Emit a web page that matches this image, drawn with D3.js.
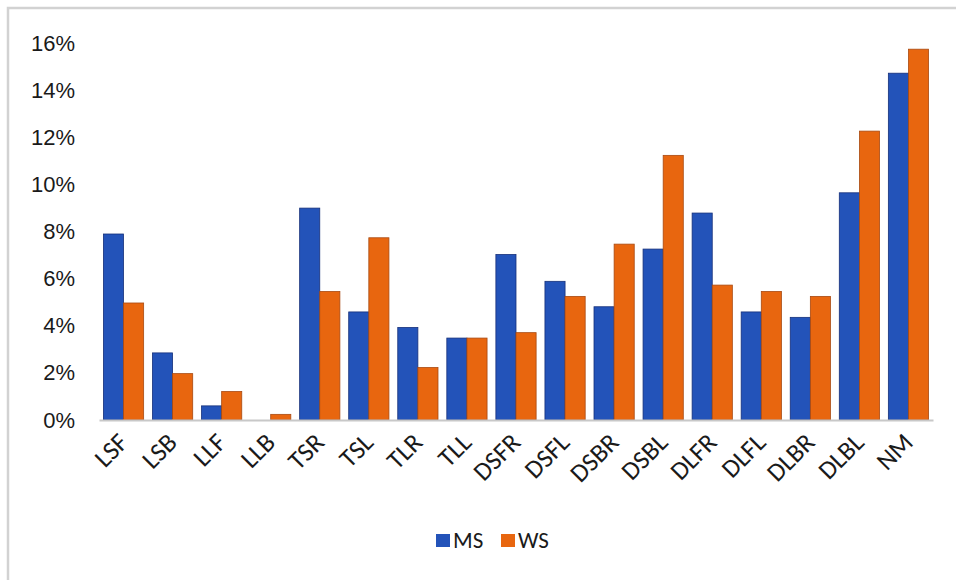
<!DOCTYPE html>
<html>
<head>
<meta charset="utf-8">
<script src="https://cdn.jsdelivr.net/npm/d3@7/dist/d3.min.js"></script>
<style>
  html, body { margin: 0; padding: 0; background: #ffffff; }
  svg { display: block; }
</style>
</head>
<body>
<svg id="chart" width="956" height="580"></svg>
<script>
// Categories along the x axis
const categories = ["LSF", "LSB", "LLF", "LLB", "TSR", "TSL", "TLR", "TLL",
  "DSFR", "DSFL", "DSBR", "DSBL", "DLFR", "DLFL", "DLBR", "DLBL", "NM"];

// Series values (fractions)
const msValues = [0.079, 0.0285, 0.006, 0.0, 0.090, 0.0459, 0.0393, 0.0348,
  0.0703, 0.0589, 0.0481, 0.0726, 0.0879, 0.0459, 0.0436, 0.0965, 0.1473];
const wsValues = [0.0497, 0.0197, 0.0121, 0.0024, 0.0546, 0.0774, 0.0223, 0.0348,
  0.0371, 0.0525, 0.0747, 0.1124, 0.0573, 0.0546, 0.0525, 0.1227, 0.1575];

const seriesNames = ["MS", "WS"];
const yTicks = [0, 0.02, 0.04, 0.06, 0.08, 0.10, 0.12, 0.14, 0.16];

const colors = { MS: "#2353b9", WS: "#e8660f" };
const strokes = { MS: "#16307a", WS: "#a84a12" };

const svg = d3.select("#chart");
const labelFont = "'Carlito', 'Liberation Sans Narrow', Lato, 'Open Sans', sans-serif";

// Outer frame
svg.append("rect")
  .attr("x", 8).attr("y", 8)
  .attr("width", 980).attr("height", 600)
  .attr("fill", "none")
  .attr("stroke", "#d2d2d2")
  .attr("stroke-width", 2.5);

const plot = { left: 99, right: 933, top: 43.3, bottom: 420 };

const x = d3.scaleBand()
  .domain(categories)
  .range([plot.left, plot.right])
  .paddingInner(0.18)
  .paddingOuter(0.09);

const xSub = d3.scaleBand()
  .domain(seriesNames)
  .range([0, x.bandwidth()])
  .padding(0);

const y = d3.scaleLinear()
  .domain([0, 0.16])
  .range([plot.bottom, plot.top]);

// Y axis labels only
const yAxis = d3.axisLeft(y)
  .tickValues(yTicks)
  .tickFormat(d3.format(".0%"))
  .tickSize(0)
  .tickPadding(0);

const gy = svg.append("g")
  .attr("transform", "translate(75,0)")
  .call(yAxis);
gy.select(".domain").remove();
gy.selectAll("text")
  .attr("font-family", "'Liberation Sans', Arial, sans-serif")
  .attr("font-size", 22)
  .attr("fill", "#1a1a1a");

// Bars
const rows = categories.map((c, i) => ({ cat: c, MS: msValues[i], WS: wsValues[i] }));

const groups = svg.append("g").selectAll("g")
  .data(rows)
  .join("g")
  .attr("transform", d => `translate(${x(d.cat)},0)`);

groups.selectAll("rect")
  .data(d => seriesNames.map(s => ({ key: s, value: d[s] })))
  .join("rect")
  .attr("x", d => xSub(d.key))
  .attr("y", d => y(d.value))
  .attr("width", xSub.bandwidth())
  .attr("height", d => y(0) - y(d.value))
  .attr("fill", d => colors[d.key])
  .attr("stroke", d => d.value > 0 ? strokes[d.key] : "none")
  .attr("stroke-width", 0.8);

// X axis baseline and rotated category labels
const xAxis = d3.axisBottom(x).tickSize(0).tickPadding(0);
const gx = svg.append("g")
  .attr("transform", `translate(0,${plot.bottom})`)
  .call(xAxis);
gx.select(".domain")
  .attr("stroke", "#c8c8c8")
  .attr("stroke-width", 2);
gx.selectAll(".tick text")
  .attr("font-family", labelFont)
  .style("font-size", "26px")
  .attr("fill", "#1a1a1a")
  .attr("text-anchor", "end")
  .attr("dy", 0)
  .attr("transform", "translate(6,24) rotate(-45)");

// Legend
const legend = svg.append("g").attr("transform", "translate(436,534)");
const legendItems = legend.selectAll("g")
  .data(seriesNames)
  .join("g")
  .attr("transform", (d, i) => `translate(${i * 65},0)`);
legendItems.append("rect")
  .attr("width", 14).attr("height", 13)
  .attr("fill", d => colors[d]);
legendItems.append("text")
  .attr("x", 17).attr("y", 14)
  .attr("font-family", labelFont)
  .style("font-size", "23px")
  .attr("fill", "#1a1a1a")
  .text(d => d);
</script>
</body>
</html>
